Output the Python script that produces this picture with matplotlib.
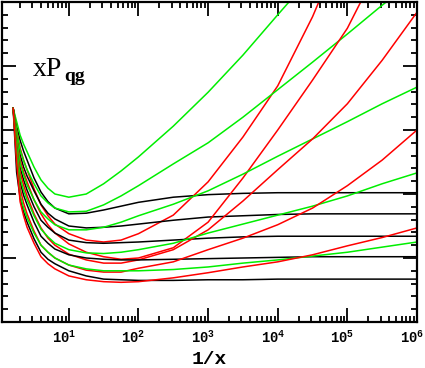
import matplotlib
matplotlib.use('Agg')
import matplotlib.pyplot as plt
import matplotlib.transforms as mtransforms
from matplotlib.ticker import MultipleLocator, LogLocator, NullFormatter
import numpy as np

plt.rcParams['mathtext.fontset'] = 'custom'
plt.rcParams['mathtext.bf'] = 'Liberation Mono:bold'
plt.rcParams['mathtext.rm'] = 'Liberation Mono:bold'

# log10(1/x) grid where curves were read
log_invx = [0.2, 0.25, 0.3, 0.35, 0.4, 0.5, 0.6, 0.7, 0.8, 1.0, 1.25, 1.5, 1.75, 2.0,
            2.5, 3.0, 3.5, 4.0, 4.5, 5.0, 5.5, 6.0]

# black curves
black = [
    [0.334, 0.306, 0.284, 0.267, 0.253, 0.225, 0.203, 0.188, 0.178, 0.169, 0.170, 0.175, 0.181, 0.187, 0.195, 0.199, 0.201, 0.202, 0.202, 0.202, 0.202, 0.202],
    [0.334, 0.294, 0.261, 0.242, 0.228, 0.205, 0.184, 0.170, 0.161, 0.150, 0.147, 0.148, 0.150, 0.153, 0.159, 0.164, 0.166, 0.168, 0.169, 0.169, 0.169, 0.169],
    [0.334, 0.281, 0.241, 0.222, 0.206, 0.180, 0.159, 0.148, 0.139, 0.128, 0.124, 0.123, 0.124, 0.125, 0.128, 0.131, 0.133, 0.134, 0.134, 0.134, 0.134, 0.134],
    [0.334, 0.269, 0.219, 0.198, 0.183, 0.156, 0.134, 0.123, 0.114, 0.105, 0.100, 0.098, 0.097, 0.097, 0.098, 0.099, 0.100, 0.101, 0.102, 0.102, 0.102, 0.102],
    [0.334, 0.234, 0.194, 0.172, 0.156, 0.130, 0.109, 0.098, 0.091, 0.080, 0.072, 0.067, 0.066, 0.065, 0.065, 0.066, 0.066, 0.067, 0.067, 0.067, 0.067, 0.067],
]
# green curves
green = [
    [0.334, 0.313, 0.292, 0.278, 0.266, 0.242, 0.222, 0.209, 0.200, 0.195, 0.200, 0.216, 0.236, 0.258, 0.306, 0.359, 0.417, 0.480, 0.542],
    [0.334, 0.298, 0.269, 0.252, 0.238, 0.216, 0.197, 0.186, 0.178, 0.172, 0.173, 0.183, 0.197, 0.213, 0.247, 0.280, 0.320, 0.363, 0.406, 0.450, 0.495, 0.538],
    [0.334, 0.288, 0.248, 0.230, 0.214, 0.191, 0.172, 0.161, 0.152, 0.144, 0.144, 0.148, 0.156, 0.166, 0.184, 0.205, 0.231, 0.259, 0.286, 0.313, 0.341, 0.367],
    [0.334, 0.273, 0.225, 0.206, 0.191, 0.166, 0.145, 0.133, 0.123, 0.113, 0.108, 0.107, 0.109, 0.113, 0.123, 0.139, 0.153, 0.167, 0.181, 0.197, 0.216, 0.233],
    [0.334, 0.258, 0.198, 0.178, 0.163, 0.139, 0.120, 0.109, 0.100, 0.089, 0.083, 0.080, 0.080, 0.080, 0.082, 0.086, 0.092, 0.097, 0.103, 0.109, 0.117, 0.125],
]
# red curves
red = [
    [0.334, 0.300, 0.272, 0.253, 0.238, 0.208, 0.183, 0.166, 0.153, 0.138, 0.128, 0.125, 0.128, 0.138, 0.167, 0.219, 0.289, 0.369, 0.477, 0.605],
    [0.334, 0.289, 0.253, 0.234, 0.219, 0.191, 0.169, 0.152, 0.139, 0.122, 0.109, 0.102, 0.098, 0.100, 0.116, 0.156, 0.225, 0.300, 0.378, 0.459, 0.566],
    [0.334, 0.278, 0.234, 0.214, 0.197, 0.169, 0.147, 0.131, 0.120, 0.106, 0.097, 0.092, 0.092, 0.097, 0.113, 0.144, 0.189, 0.238, 0.286, 0.341, 0.409, 0.484],
    [0.334, 0.263, 0.209, 0.186, 0.169, 0.142, 0.120, 0.109, 0.100, 0.089, 0.081, 0.078, 0.078, 0.084, 0.094, 0.113, 0.131, 0.152, 0.178, 0.213, 0.253, 0.300],
    [0.334, 0.250, 0.188, 0.166, 0.148, 0.123, 0.102, 0.091, 0.083, 0.072, 0.066, 0.063, 0.062, 0.063, 0.069, 0.077, 0.086, 0.094, 0.105, 0.119, 0.132, 0.147],
]

xtick_pos = [1e1, 1e2, 1e3, 1e4, 1e5, 1e6]
xtick_lab = [r'$\mathbf{10^{1}}$', r'$\mathbf{10^{2}}$', r'$\mathbf{10^{3}}$',
             r'$\mathbf{10^{4}}$', r'$\mathbf{10^{5}}$', r'$\mathbf{10^{6}}$']

fig = plt.figure(figsize=(4.25, 3.68), dpi=100)
ax = fig.add_axes([2/425, 46/368, 415/425, 320/368])

invx = 10 ** np.array(log_invx)
for b, g, r in zip(black, green, red):
    ax.plot(invx[:len(b)], b, color='black', lw=1.1)
    ax.plot(invx[:len(g)], g, color='#00ee00', lw=1.1)
    ax.plot(invx[:len(r)], r, color='#ff0000', lw=1.1)

ax.set_xscale('log')
ax.set_xlim(10 ** 0.04, 1e6)
ax.set_ylim(0, 0.5)
ax.set_xticks(xtick_pos)
ax.set_xticklabels(xtick_lab, fontsize=10)
ax.xaxis.set_minor_locator(LogLocator(base=10, subs=np.arange(2, 10)))
ax.xaxis.set_minor_formatter(NullFormatter())
ax.yaxis.set_major_locator(MultipleLocator(0.1))
ax.yaxis.set_minor_locator(MultipleLocator(0.02))
ax.set_yticklabels([])
ax.tick_params(which='both', direction='in', top=True, right=True, width=1.3)
ax.tick_params(which='major', length=10, pad=5)
ax.tick_params(which='minor', length=4.5)
for s in ax.spines.values():
    s.set_linewidth(1.6)

off = mtransforms.ScaledTranslation(-5 / 100, 0, fig.dpi_scale_trans)
for lab in ax.get_xticklabels():
    lab.set_transform(lab.get_transform() + off)

fig.text(209.5 / 425, 1 - 364 / 368, '1/x', family='Liberation Mono', weight='bold',
         fontsize=14, ha='center', va='baseline')
fig.text(33 / 425, 1 - 76 / 368, 'xP', family='Liberation Serif', fontsize=20, va='baseline')
fig.text(64 / 425, 1 - 81 / 368, 'qg', family='Liberation Serif', weight='bold', fontsize=14, va='baseline')

plt.savefig('out.png', dpi=100)
